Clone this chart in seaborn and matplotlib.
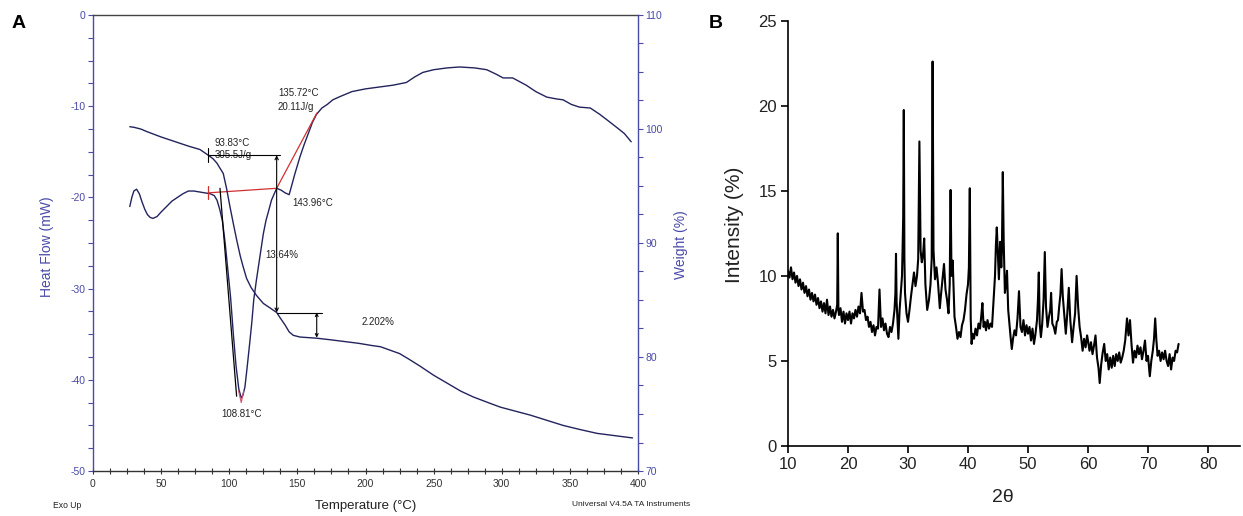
import matplotlib
matplotlib.use("Agg")
import matplotlib.pyplot as plt
from matplotlib.ticker import MultipleLocator
import seaborn as sns

sns.set_theme(style="white")
plt.rcParams['font.family'] = ['Liberation Sans', 'DejaVu Sans']
plt.rcParams['axes.unicode_minus'] = False

# ---------------- Panel A data (DSC / TGA) ----------------
hf_temp = [27, 28.5, 30, 32, 34, 36, 38, 40, 42, 44, 47, 50, 54, 58, 62, 66, 70, 74, 78, 82,
           86, 89, 91, 93, 95, 97, 99, 101, 103, 105, 107, 108.8, 110, 111.5, 113, 115, 116.5,
           118, 120, 122.5, 125, 127, 128.5, 131, 134.8, 138, 141, 143.96, 146, 148, 150, 152,
           155, 158, 161, 164, 168, 172, 176, 182, 190, 200, 210, 220, 230, 236, 242, 250, 260,
           269, 280, 289, 296, 301, 308, 313, 318, 325, 333, 340, 345, 351, 357, 365, 372, 379,
           385, 390, 395]
heat_flow = [-21.0, -20.0, -19.3, -19.1, -19.6, -20.5, -21.3, -21.9, -22.2, -22.3, -22.1, -21.6,
             -21.0, -20.4, -20.0, -19.6, -19.3, -19.3, -19.4, -19.5, -19.6, -19.8, -20.3, -21.3,
             -22.6, -25.0, -28.0, -31.0, -35.0, -38.5, -41.0, -42.0, -41.7, -40.8, -38.8, -36.0,
             -33.8, -31.2, -29.0, -26.5, -24.0, -22.5, -21.7, -20.3, -19.0, -19.2, -19.5, -19.7,
             -18.6, -17.5, -16.5, -15.5, -14.2, -13.0, -11.8, -10.9, -10.2, -9.8, -9.3, -8.9,
             -8.4, -8.1, -7.9, -7.7, -7.4, -6.8, -6.3, -6.0, -5.8, -5.7, -5.8, -6.0, -6.5, -6.9,
             -6.9, -7.3, -7.7, -8.4, -9.0, -9.2, -9.3, -9.8, -10.1, -10.2, -10.9, -11.7, -12.4,
             -13.0, -13.9]

tga_temp = [27, 30, 35, 40, 50, 60, 70, 78.5, 84.6, 88, 91, 93, 95.6, 98, 100.5, 103, 105.4,
            108, 110, 112.7, 116, 120, 125, 130, 134.8, 137, 141, 144, 147, 152, 158, 164.2,
            175, 185, 195, 205, 211, 218, 225, 232, 240, 250, 260, 270, 279, 290, 299, 310,
            321, 333, 345, 357, 370, 383, 396]
weight = [100.2, 100.15, 100.0, 99.75, 99.3, 98.9, 98.5, 98.2, 97.7, 97.4, 97.0, 96.6, 96.1,
          94.8, 93.2, 91.7, 90.3, 88.9, 88.0, 86.9, 86.1, 85.4, 84.7, 84.3, 83.9, 83.5, 82.8,
          82.2, 81.9, 81.75, 81.7, 81.65, 81.5, 81.35, 81.2, 81.0, 80.9, 80.6, 80.3, 79.8, 79.2,
          78.4, 77.7, 77.0, 76.5, 76.0, 75.6, 75.25, 74.9, 74.45, 74.0, 73.65, 73.3, 73.1, 72.9]

# ---------------- Panel B data (XRD) ----------------
two_theta = [
    10.0, 10.25, 10.5, 10.75, 11.0, 11.25, 11.5, 11.75, 12.0, 12.25, 12.5, 12.75, 13.0, 13.25,
    13.5, 13.75, 14.0, 14.25, 14.5, 14.75,
    15.0, 15.25, 15.5, 15.75, 16.0, 16.25, 16.5, 16.75, 17.0, 17.25, 17.5, 17.75, 18.0, 18.2,
    18.3, 18.4, 18.5, 18.75, 19.0, 19.25, 19.5, 19.75,
    20.0, 20.25, 20.5, 20.75, 21.0, 21.25, 21.5, 21.75, 22.0, 22.25, 22.5, 22.75, 23.0, 23.25,
    23.5, 23.75, 24.0, 24.25, 24.5, 24.75,
    25.0, 25.25, 25.5, 25.75, 26.0, 26.25, 26.5, 26.75, 27.0, 27.25, 27.5, 27.75, 27.9, 28.0,
    28.1, 28.25, 28.4, 28.6, 28.8, 29.0, 29.1, 29.2, 29.3, 29.4, 29.5, 29.75,
    30.0, 30.25, 30.5, 30.75, 31.0, 31.25, 31.5, 31.7, 31.9, 32.1, 32.3, 32.5, 32.7, 32.9,
    33.2, 33.5, 33.75, 33.95, 34.1, 34.25, 34.5, 34.75,
    35.0, 35.3, 35.5, 35.75, 36.0, 36.25, 36.5, 36.75, 36.95, 37.1, 37.25, 37.45, 37.75, 38.0,
    38.25, 38.5, 38.75, 39.0, 39.25, 39.5, 39.75,
    40.0, 40.15, 40.3, 40.45, 40.6, 40.75, 41.0, 41.25, 41.5, 41.75, 42.0, 42.2, 42.4, 42.6,
    42.8, 43.0, 43.25, 43.5, 43.75, 44.0, 44.25, 44.5, 44.65, 44.8, 44.95,
    45.15, 45.35, 45.55, 45.65, 45.8, 45.95, 46.15, 46.35, 46.5, 46.7, 46.9, 47.1, 47.3, 47.5,
    47.75, 48.0, 48.25, 48.5, 48.75, 49.0, 49.25, 49.5, 49.75,
    50.0, 50.25, 50.5, 50.75, 51.0, 51.25, 51.5, 51.65, 51.8, 51.95, 52.15, 52.35, 52.6, 52.8,
    53.0, 53.25, 53.5, 53.7, 53.85, 54.05, 54.3, 54.55, 54.8,
    55.0, 55.2, 55.4, 55.6, 55.8, 56.0, 56.3, 56.55, 56.8, 57.05, 57.35, 57.6, 57.85, 58.1,
    58.35, 58.6, 58.85, 59.1, 59.35, 59.6, 59.85,
    60.0, 60.25, 60.5, 60.75, 61.0, 61.25, 61.5, 61.75, 61.95, 62.2, 62.45, 62.7, 62.95, 63.2,
    63.45, 63.7, 63.95, 64.2, 64.45, 64.7, 64.95,
    65.2, 65.45, 65.7, 65.95, 66.2, 66.5, 66.75, 67.0, 67.25, 67.5, 67.75, 68.0, 68.25, 68.5,
    68.75, 69.0, 69.25, 69.5, 69.75,
    70.0, 70.3, 70.55, 70.8, 71.0, 71.2, 71.4, 71.6, 71.85, 72.1, 72.35, 72.6, 72.85, 73.1,
    73.35, 73.6, 73.85, 74.1, 74.35, 74.6, 74.85, 75.1]
intensity = [
    10.3, 9.9, 10.5, 9.8, 10.2, 9.6, 10.0, 9.4, 9.8, 9.2, 9.6, 9.0, 9.4, 8.8,
    9.2, 8.6, 9.0, 8.5, 8.9, 8.3,
    8.7, 8.1, 8.5, 7.9, 8.4, 7.8, 8.6, 7.7, 8.2, 7.6, 8.0, 7.5, 7.9, 8.3,
    12.5, 8.0, 7.7, 8.1, 7.3, 7.9, 7.2, 7.8,
    7.4, 7.9, 7.2, 7.8, 7.5, 8.0, 7.6, 8.2, 7.8, 9.0, 7.9, 8.0, 7.4, 7.6,
    7.0, 7.3, 6.7, 7.1, 6.5, 7.0,
    6.9, 9.2, 7.0, 7.5, 6.8, 7.2, 6.6, 6.4, 7.0, 6.7, 7.2, 8.0, 9.0, 11.3,
    8.5, 7.4, 6.3, 8.0, 9.0, 10.0, 11.6, 13.5, 19.75, 11.0, 9.0, 7.8,
    7.3, 8.0, 8.8, 9.5, 10.2, 9.4, 10.0, 11.0, 17.9, 11.5, 10.8, 11.2, 12.2, 9.5,
    8.0, 8.6, 9.5, 11.0, 22.6, 11.5, 9.8, 10.5,
    9.6, 8.1, 8.9, 9.8, 10.7, 9.2, 8.6, 7.8, 9.5, 15.05, 10.0, 10.9, 7.6, 7.0,
    6.3, 6.7, 6.4, 7.1, 7.4, 8.0, 8.9,
    9.5, 10.5, 15.15, 7.5, 6.0, 6.6, 6.3, 6.9, 6.5, 7.2, 6.9, 7.6, 8.4, 7.0,
    7.3, 6.8, 7.4, 6.9, 7.2, 7.0, 8.5, 10.0, 11.8, 12.85, 11.6,
    9.8, 12.0, 10.5, 11.5, 16.1, 12.0, 9.0, 9.6, 10.3, 8.0, 7.2, 6.4, 5.7, 6.3,
    6.8, 6.5, 7.5, 9.1, 7.0, 6.7, 7.4, 6.5, 7.1,
    6.6, 7.0, 6.2, 6.9, 6.0, 6.6, 7.4, 8.5, 10.2, 7.2, 6.4, 7.1, 8.6, 11.4,
    8.2, 7.0, 7.6, 8.0, 9.0, 7.2, 7.0, 6.6, 7.3,
    7.4, 8.2, 8.9, 10.4, 8.8, 7.9, 6.6, 7.8, 9.3, 7.4, 6.1, 7.0, 7.8, 10.0,
    8.2, 7.0, 6.4, 5.6, 6.3, 5.8, 6.5,
    6.2, 5.6, 6.1, 5.4, 5.9, 6.5, 5.2, 4.6, 3.7, 4.8, 5.5, 6.0, 5.0, 5.4,
    4.5, 5.2, 4.6, 5.3, 4.7, 5.4, 5.0,
    5.5, 4.9, 5.2, 5.6, 6.2, 7.5, 6.5, 7.4, 6.0, 4.9, 5.6, 5.2, 5.9, 5.4,
    5.8, 5.1, 5.6, 6.2, 5.0,
    5.3, 4.1, 5.0, 5.6, 6.3, 7.5, 6.2, 5.3, 5.6, 5.0, 5.5, 5.1, 5.6, 5.0,
    4.7, 5.4, 4.5, 5.2, 5.0, 5.6, 5.5, 6.0]

xrd_xticks = [10, 20, 30, 40, 50, 60, 70, 80]
xrd_yticks = [0, 5, 10, 15, 20, 25]

W, H = 1243, 516
fig = plt.figure(figsize=(W / 100, H / 100), dpi=100)
fig.patch.set_facecolor("white")


def fx(px):
    return px / W


def fy(py):
    return 1 - py / H


AX_BLUE = "#4a4aa8"
CURVE = "#23235e"

# ---------------- Panel A ----------------
axA = fig.add_axes([fx(93), fy(471), fx(638) - fx(93), fy(15) - fy(471)])
axA2 = axA.twinx()
axA.set_facecolor("white")

sns.lineplot(x=hf_temp, y=heat_flow, ax=axA, color=CURVE, lw=1.0, estimator=None)
sns.lineplot(x=tga_temp, y=weight, ax=axA2, color=CURVE, lw=1.0, estimator=None)

axA.set_xlim(0, 400)
axA.set_ylim(-50, 0)
axA2.set_ylim(70, 110)
axA.xaxis.set_major_locator(MultipleLocator(50))
axA.xaxis.set_minor_locator(MultipleLocator(12.5))
axA.yaxis.set_major_locator(MultipleLocator(10))
axA.yaxis.set_minor_locator(MultipleLocator(2.5))
axA2.yaxis.set_major_locator(MultipleLocator(10))
axA2.yaxis.set_minor_locator(MultipleLocator(2.5))

for sp in axA.spines.values():
    sp.set_linewidth(1.0)
axA.spines["left"].set_color(AX_BLUE)
axA.spines["right"].set_visible(False)
axA.spines["top"].set_color("#444444")
axA.spines["bottom"].set_color("#333333")
for s in ["left", "top", "bottom"]:
    axA2.spines[s].set_visible(False)
axA2.spines["right"].set_color(AX_BLUE)
axA2.spines["right"].set_linewidth(1.0)

axA.tick_params(axis="y", which="both", direction="out", colors=AX_BLUE, labelsize=7.5,
                length=3.5, width=0.8, pad=2, left=True)
axA.tick_params(axis="x", which="both", direction="inout", color="#333333", labelcolor="#333333",
                labelsize=7.5, length=5, width=0.8, pad=3, bottom=True)
axA2.tick_params(axis="y", which="both", direction="out", colors=AX_BLUE, labelsize=7.5,
                 length=3.5, width=0.8, pad=2, right=True)
axA.set_xlabel("")
axA.set_ylabel("")
axA2.set_ylabel("")

# construction lines (weight axis)
axA2.plot([84.6, 137.2], [97.7, 97.7], color="black", lw=0.8)
axA2.plot([84.6, 84.6], [97.1, 98.3], color="black", lw=0.8)
axA2.annotate("", xy=(134.8, 83.9), xytext=(134.8, 97.7),
              arrowprops=dict(arrowstyle="<->", color="black", lw=0.8, mutation_scale=6,
                              shrinkA=0, shrinkB=0))
axA2.plot([134.8, 167.8], [83.9, 83.9], color="black", lw=0.8)
axA2.annotate("", xy=(164.2, 81.7), xytext=(164.2, 83.9),
              arrowprops=dict(arrowstyle="<->", color="black", lw=0.8, mutation_scale=5,
                              shrinkA=0, shrinkB=0))

# construction lines (heat-flow axis)
axA.plot([84.6, 134.8, 164.3], [-19.5, -19.0, -10.75], color="#d03030", lw=0.9)
axA.plot([84.6, 84.6], [-18.8, -20.2], color="#d03030", lw=0.9)
axA.plot([93.2, 105.4], [-19.0, -41.8], color="black", lw=0.9)
axA.plot([106.8, 108.8, 110.6], [-41.2, -42.5, -41.2], color="#d05070", lw=0.8)

txt_kw = dict(fontsize=7, color="#222222", va="center")
axA.text(89.5, -14.0, "93.83°C", ha="left", **txt_kw)
axA.text(89.5, -15.35, "305.5J/g", ha="left", **txt_kw)
axA.text(135.8, -8.55, "135.72°C", ha="left", **txt_kw)
axA.text(135.8, -10.1, "20.11J/g", ha="left", **txt_kw)
axA.text(146.0, -20.6, "143.96°C", ha="left", **txt_kw)
axA.text(109.0, -43.75, "108.81°C", ha="center", **txt_kw)
axA.text(126.2, -26.3, "13.64%", ha="left", **txt_kw)
axA.text(197.4, -33.7, "2.202%", ha="left", **txt_kw)

fig.text(fx(47), fy(247), "Heat Flow (mW)", rotation=90, ha="center", va="center",
         fontsize=10, color=AX_BLUE)
fig.text(fx(681), fy(245), "Weight (%)", rotation=90, ha="center", va="center",
         fontsize=10, color=AX_BLUE)
fig.text(fx(366), fy(506), "Temperature (°C)", ha="center", va="center", fontsize=9.5,
         color="#222222")
fig.text(fx(53), fy(505), "Exo Up", ha="left", va="center", fontsize=6.2, color="#222222")
fig.text(fx(572), fy(505), "Universal V4.5A TA Instruments", ha="left", va="center",
         fontsize=6.0, color="#222222")
fig.text(fx(19), fy(24), "A", ha="center", va="center", fontsize=14, fontweight="bold",
         color="black")

# ---------------- Panel B ----------------
axB = fig.add_axes([fx(788), fy(446), fx(1240) - fx(788), fy(20.7) - fy(446)])
axB.set_facecolor("white")
sns.lineplot(x=two_theta, y=intensity, ax=axB, color="black", lw=1.5, estimator=None)
axB.set_xlim(10, 10 + (1240 - 788) / 6.0)
axB.set_ylim(0, 25)
axB.set_xticks(xrd_xticks)
axB.set_yticks(xrd_yticks)
axB.spines["top"].set_visible(False)
axB.spines["right"].set_visible(False)
for s in ["left", "bottom"]:
    axB.spines[s].set_color("black")
    axB.spines[s].set_linewidth(1.2)
axB.tick_params(axis="both", direction="out", length=5, width=1.2, colors="black",
                labelcolor="#222222", labelsize=12, left=True, bottom=True, pad=3)
axB.set_xlabel("")
axB.set_ylabel("")
fig.text(fx(735), fy(225), "Intensity (%)", rotation=90, ha="center", va="center",
         fontsize=15, color="#222222")
fig.text(fx(1003), fy(498), "2θ", ha="center", va="center", fontsize=14, color="#222222")
fig.text(fx(716), fy(24), "B", ha="center", va="center", fontsize=14, fontweight="bold",
         color="black")

fig.savefig("out.png", dpi=100, facecolor="white")
